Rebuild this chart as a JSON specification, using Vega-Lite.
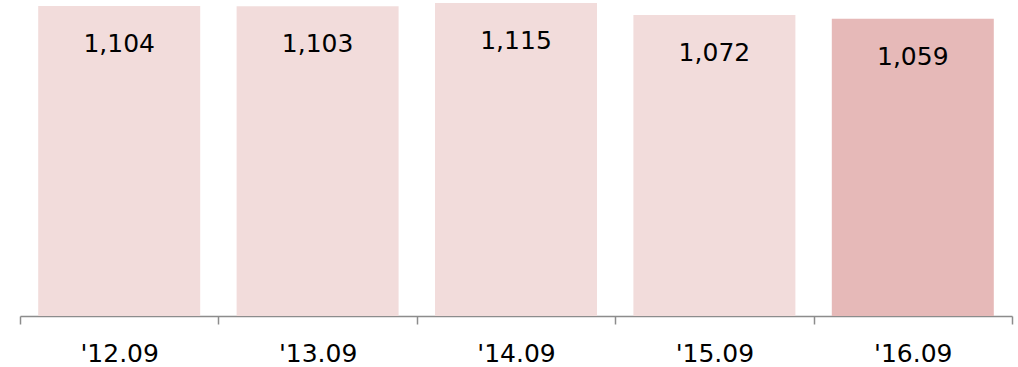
{
  "$schema": "https://vega.github.io/schema/vega-lite/v6.json",
  "width": 992,
  "height": 313,
  "autosize": {"type": "none"},
  "padding": {"left": 20, "top": 3, "right": 6, "bottom": 51},
  "background": "white",
  "config": {"view": {"stroke": null}, "font": "DejaVu Sans"},
  "data": {
    "values": [
      {"period": "'12.09", "value": 1104, "latest": "no"},
      {"period": "'13.09", "value": 1103, "latest": "no"},
      {"period": "'14.09", "value": 1115, "latest": "no"},
      {"period": "'15.09", "value": 1072, "latest": "no"},
      {"period": "'16.09", "value": 1059, "latest": "yes"}
    ]
  },
  "encoding": {
    "x": {
      "field": "period",
      "type": "nominal",
      "sort": null,
      "scale": {"paddingInner": 0, "paddingOuter": 0},
      "axis": {
        "title": null,
        "labelAngle": 0,
        "labelFontSize": 25,
        "labelColor": "#000000",
        "labelBaseline": "alphabetic",
        "labelPadding": 37,
        "tickBand": "extent",
        "tickSize": 8,
        "tickColor": "#8c8c8c",
        "tickWidth": 1.5,
        "domainColor": "#8c8c8c",
        "domainWidth": 1.5
      }
    },
    "y": {
      "field": "value",
      "type": "quantitative",
      "scale": {"domain": [0, 1115], "nice": false},
      "axis": null
    }
  },
  "layer": [
    {
      "mark": {"type": "bar", "width": {"band": 0.8165}},
      "encoding": {
        "color": {
          "field": "latest",
          "type": "nominal",
          "scale": {"domain": ["no", "yes"], "range": ["#f2dcdb", "#e6b9b8"]},
          "legend": null
        }
      }
    },
    {
      "mark": {"type": "text", "baseline": "alphabetic", "dy": 46, "fontSize": 25, "color": "#000000"},
      "encoding": {
        "text": {"field": "value", "type": "quantitative", "format": ","}
      }
    }
  ]
}
